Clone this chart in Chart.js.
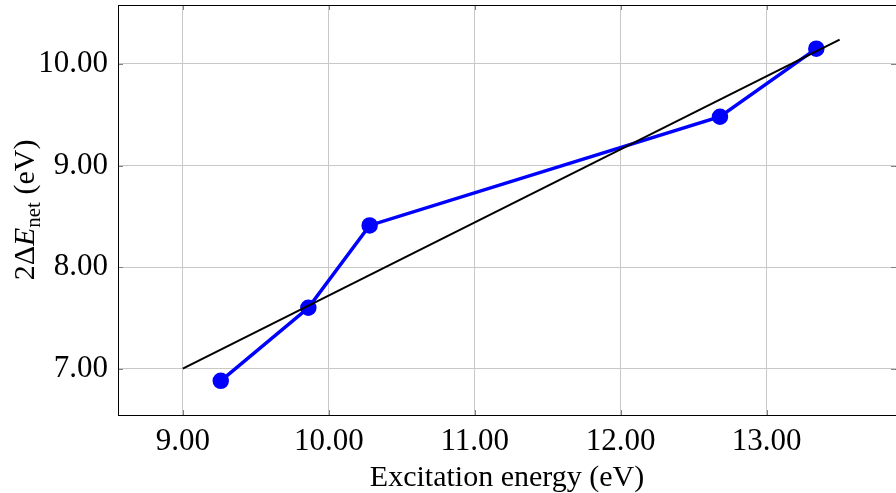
<!DOCTYPE html>
<html>
<head>
<meta charset="utf-8">
<script src="https://cdn.jsdelivr.net/npm/chart.js@4.4.1/dist/chart.umd.min.js"></script>
<style>
	html, body { margin: 0; padding: 0; background: #fff; }
	#wrap { width: 896px; height: 493px; }
</style>
</head>
<body>
<div id="wrap"><canvas id="cv"></canvas></div>
<script>
// measured points
const excitation = [9.26, 9.86, 10.28, 12.68, 13.34];
const deltaNet = [6.88, 7.60, 8.41, 9.48, 10.15];

// straight reference line
const fitX = [9.0, 13.5];
const fitY = [7.0, 10.24];

const xTickValues = [9, 10, 11, 12, 13];
const yTickValues = [7, 8, 9, 10];

const xTitle = "Excitation energy (eV)";

const serif = "'Liberation Serif', 'DejaVu Serif', serif";

// frame, inner tick marks and the y title with a subscript
const framePlugin = {
	id: "frame",
	afterDraw(chart) {
		const ctx = chart.ctx;
		const a = chart.chartArea;
		const xs = chart.scales.x, ys = chart.scales.y;
		ctx.save();
		ctx.strokeStyle = "#808080";
		ctx.lineWidth = 1;
		ctx.beginPath();
		xTickValues.forEach((v) => {
			let px = Math.round(xs.getPixelForValue(v)) + 0.5;
			ctx.moveTo(px, a.bottom); ctx.lineTo(px, a.bottom - 5);
			ctx.moveTo(px, a.top); ctx.lineTo(px, a.top + 5);
		});
		yTickValues.forEach((v) => {
			let py = Math.round(ys.getPixelForValue(v)) + 0.5;
			ctx.moveTo(a.left, py); ctx.lineTo(a.left + 5, py);
			ctx.moveTo(a.right, py); ctx.lineTo(a.right - 5, py);
		});
		ctx.stroke();
		ctx.strokeStyle = "#000";
		// right side of the frame falls just outside the picture
		ctx.strokeRect(a.left + 0.5, a.top + 0.5, a.right - a.left + 1, a.bottom - a.top);

		// y title: 2ΔE_net (eV)
		const parts = [
			{ t: "2Δ", f: "30px " + serif, dy: 0 },
			{ t: "E", f: "italic 30px " + serif, dy: 0 },
			{ t: "net", f: "21px " + serif, dy: 6 },
			{ t: " (eV)", f: "30px " + serif, dy: 0 },
		];
		let total = 0;
		parts.forEach((p) => {
			ctx.font = p.f;
			p.w = ctx.measureText(p.t).width;
			total += p.w;
		});
		ctx.translate(24, (a.top + a.bottom) / 2);
		ctx.rotate(-Math.PI / 2);
		ctx.fillStyle = "#000";
		ctx.textBaseline = "alphabetic";
		let x = -total / 2;
		parts.forEach((p) => {
			ctx.font = p.f;
			ctx.fillText(p.t, x, 10 + p.dy);
			x += p.w;
		});
		ctx.restore();
	},
};

new Chart(document.getElementById("cv"), {
	type: "line",
	data: {
		datasets: [
			{
				data: excitation.map((x, i) => ({ x: x, y: deltaNet[i] })),
				borderColor: "#0000ff",
				backgroundColor: "#0000ff",
				borderWidth: 3.5,
				pointRadius: 6.5,
				pointHoverRadius: 6.5,
				order: 2,
			},
			{
				data: fitX.map((x, i) => ({ x: x, y: fitY[i] })),
				borderColor: "#000000",
				borderWidth: 2,
				pointRadius: 0,
				order: 1,
			},
		],
	},
	options: {
		responsive: true,
		maintainAspectRatio: false,
		animation: false,
		layout: { autoPadding: false, padding: { top: 5, right: 0, left: 0, bottom: 0 } },
		plugins: {
			legend: { display: false },
			tooltip: { enabled: false },
		},
		scales: {
			x: {
				type: "linear",
				min: 8.556,
				max: 13.886,
				afterBuildTicks: (s) => { s.ticks = xTickValues.map((v) => ({ value: v })); },
				afterFit: (s) => {
					s.height = 78;
					s.paddingLeft = 0;
					s.paddingRight = 0;
				},
				border: { display: false },
				grid: { color: "#c8c8c8", drawTicks: false, lineWidth: 1 },
				ticks: {
					padding: 8,
					color: "#000",
					font: { family: serif, size: 31 },
					callback: (v) => v.toFixed(2),
				},
				title: {
					display: true,
					text: xTitle,
					color: "#000",
					font: { family: serif, size: 30, lineHeight: 1 },
					padding: { top: 0, bottom: 0 },
				},
			},
			y: {
				type: "linear",
				min: 6.544,
				max: 10.58,
				afterBuildTicks: (s) => { s.ticks = yTickValues.map((v) => ({ value: v })); },
				afterFit: (s) => {
					s.width = 118;
					s.paddingTop = 0;
					s.paddingBottom = 0;
				},
				border: { display: false },
				grid: { color: "#c8c8c8", drawTicks: false, lineWidth: 1 },
				ticks: {
					padding: 10,
					color: "#000",
					font: { family: serif, size: 31 },
					callback: (v) => v.toFixed(2),
				},
			},
		},
	},
	plugins: [framePlugin],
});
</script>
</body>
</html>
